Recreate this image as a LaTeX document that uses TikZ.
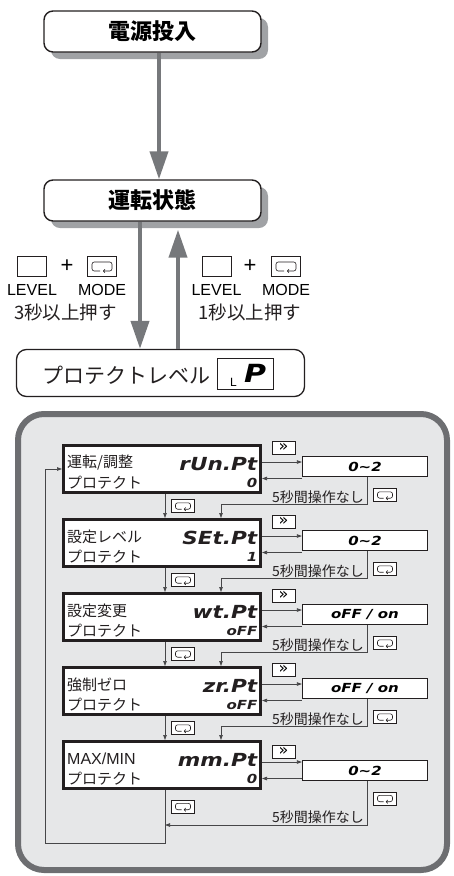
\documentclass[tikz,border=0pt]{standalone}
\usepackage{fontspec}
\setmainfont{Liberation Sans}
\newfontfamily\jp{Noto Sans CJK JP}
\newfontfamily\segf[FakeStretch=1.2]{DejaVu Sans}
\newfontfamily\dvs{DejaVu Sans}
\usetikzlibrary{arrows.meta,shadows,calc}
\definecolor{panelfill}{RGB}{230,231,232}
\definecolor{panelborder}{RGB}{109,110,113}
\definecolor{shadowgray}{RGB}{160,162,165}
\definecolor{arrowgray}{RGB}{118,120,123}
\definecolor{linegray}{RGB}{70,70,72}
\definecolor{ink}{RGB}{35,31,32}
\tikzset{
 titlebox/.style={draw=ink, line width=1.4pt, rounded corners=9pt, fill=white, minimum width=217pt, minimum height=41pt, inner sep=0pt, font=\jp\bfseries\fontsize{22}{22}\selectfont, drop shadow={shadow xshift=7pt, shadow yshift=-7pt, fill=shadowgray, opacity=1}},
 bigarrow/.style={draw=arrowgray, line width=4pt, -{Triangle[length=28pt,width=18pt]}},
 keybig/.style={draw=ink, line width=0.8pt, minimum width=29pt, minimum height=20pt, inner sep=0pt, fill=white},
 keysmall/.style={draw=ink, line width=0.7pt, minimum width=23pt, minimum height=13pt, inner sep=0pt, fill=white},
 keylabel/.style={font=\fontsize{16}{16}\selectfont, inner sep=0pt},
 jptext/.style={font=\jp\fontsize{#1}{#1}\selectfont, inner sep=0pt, text=ink},
 rowbox/.style={draw=ink, line width=3pt, fill=white, minimum width=197pt, minimum height=47pt, inner sep=0pt},
 valbox/.style={draw=ink, line width=1.2pt, fill=white, minimum width=125pt, minimum height=20pt, inner sep=0pt, font=\segf\bfseries\itshape\fontsize{12.5}{12.5}\selectfont},
 conn/.style={draw=linegray, line width=0.7pt},
 conna/.style={conn, -{Triangle[length=5pt,width=3.5pt]}},
 segbig/.style={font=\segf\bfseries\itshape\fontsize{18}{18}\selectfont, inner sep=0pt, text=ink},
 segsmall/.style={font=\segf\bfseries\itshape\fontsize{12.5}{12.5}\selectfont, inner sep=0pt, text=ink},
}
\newcommand\modeglyph[4]{%
  \begin{scope}[shift={(#1,#2)}, x=#3pt, y=#4pt]
  \draw[draw=ink, line width=0.6pt, rounded corners=2.2pt, -{Straight Barb[length=1.6pt,width=3.4pt]}] (-0.2,-1) -- (-1,-1) -- (-1,1) -- (1,1) -- (1,-1) -- (0.1,-1);
  \end{scope}}
\newcommand\protrow[8]{%
 \pgfmathsetmacro\rowYc{#2+25}%
 \pgfmathsetmacro\rowYa{#2+20}%
 \pgfmathsetmacro\rowYb{#2+39}%
 \pgfmathsetmacro\rowYla{#2+19}%
 \pgfmathsetmacro\rowYlb{#2+38.5}%
 \pgfmathsetmacro\rowYk{#2+3.5+#7}%
 \pgfmathsetmacro\rowYv{#2+22.5+#7}%
 \pgfmathsetmacro\rowAr{#2+18+#8}%
 \pgfmathsetmacro\rowBr{#2+34.5+#8}%
 \node[rowbox] (r#1) at (162,\rowYc) {};
 \node[jptext=15, anchor=west] (r#1a) at (67,\rowYla) {#3};
 \node[jptext=15, anchor=west] (r#1b) at (67,\rowYlb) {プロテクト};
 \node[segbig, anchor=east] (r#1s) at (257.5,\rowYa) {#4};
 \node[segsmall, anchor=east] (r#1v) at (257.5,\rowYb) {#5};
 \node[keysmall] (k#1) at (283.5,\rowYk) {};
 \node[font=\dvs\fontsize{16}{16}\selectfont, inner sep=0pt] (k#1t) at (k#1) {»};
 \node[valbox] (v#1) at (365,\rowYv) {#6};
 \draw[conna] (r#1.east |- 0,\rowAr) -- (v#1.west |- 0,\rowAr);
 \draw[conna] (v#1.west |- 0,\rowBr) -- (r#1.east |- 0,\rowBr);
}
\begin{document}
\begin{tikzpicture}[x=1pt,y=-1pt]
\useasboundingbox (0,0) rectangle (454,876);
% panel background
\node[draw=panelborder, line width=6pt, fill=panelfill, rounded corners=26pt, minimum width=429pt, minimum height=456pt, inner sep=0pt] (panel) at (232.5,642) {};

% title boxes
\node[titlebox] (t1) at (152.5,31.5) {電源投入};
\node[titlebox] (t2) at (152.5,200.5) {運転状態};

% protect level box
\node[draw=ink, line width=1.3pt, rounded corners=10pt, minimum width=288pt, minimum height=47pt, fill=white, inner sep=0pt] (plvl) at (160.5,373) {};
\node[jptext=21, anchor=west] (plvltxt) at (42,375) {プロテクトレベル};
\node[draw=ink, line width=0.8pt, minimum width=56pt, minimum height=31pt, inner sep=0pt] (lpbox) at (245.5,374) {};
\node[font=\fontsize{12}{12}\selectfont, inner sep=0pt] (lpL) at (233.5,382.5) {L};
\node[font=\segf\bfseries\itshape\fontsize{25}{25}\selectfont, inner sep=0pt] (lpP) at (255,373) {P};

% big gray arrows
\coordinate (xa) at (159,0);
\coordinate (xb) at (140,0);
\coordinate (xc) at (178,0);
\draw[bigarrow] (t1.south -| xa) -- (t2.north -| xa);
\draw[bigarrow] (t2.south -| xb) -- (plvl.north -| xb);
\draw[bigarrow] (plvl.north -| xc) -- ($(t2.south -| xc)+(0,8)$);

% key hints left
\node[keybig] (lvl1) at (32,266.5) {};
\node[font=\fontsize{22}{22}\selectfont, inner sep=0pt] (plus1) at (67,266) {+};
\node[keybig] (mode1) at (102,266.5) {};
\modeglyph{102}{266.5}{10}{4.5}
\node[keylabel] (lvl1t) at (32,290) {LEVEL};
\node[keylabel] (mode1t) at (102,290) {MODE};
\node[jptext=18.5] (sec3) at (65.5,312) {3秒以上押す};
% key hints right
\node[keybig] (lvl2) at (216.5,266.5) {};
\node[font=\fontsize{22}{22}\selectfont, inner sep=0pt] (plus2) at (250,266) {+};
\node[keybig] (mode2) at (286,266.5) {};
\modeglyph{286}{266.5}{10}{4.5}
\node[keylabel] (lvl2t) at (216.5,290) {LEVEL};
\node[keylabel] (mode2t) at (286,290) {MODE};
\node[jptext=18.5] (sec1) at (250,312) {1秒以上押す};

% rows
\protrow{1}{444}{運転/調整}{rUn.Pt}{0}{0\textasciitilde 2}{0}{0}
\protrow{2}{518}{設定レベル}{SEt.Pt}{1}{0\textasciitilde 2}{0}{0}
\protrow{3}{592}{設定変更}{wt.Pt}{oFF}{oFF / on}{0}{0}
\protrow{4}{666}{強制ゼロ}{zr.Pt}{oFF}{oFF / on}{0}{0}
\protrow{5}{740}{{\normalfont\fontsize{16}{16}\selectfont MAX/MIN}}{mm.Pt}{0}{0\textasciitilde 2}{8}{4}

\coordinate (dx) at (165,0);
\coordinate (fbx) at (367,0);
\coordinate (fcx) at (221,0);
\coordinate (lx) at (45,0);

% row 1 -> 2
\draw[conna] (r1.south -| dx) -- (r2.north -| dx);
\node[keysmall] (m1) at (183,506) {};
\modeglyph{183}{506}{7.5}{3.2}
\draw[conna] (v1.south -| fbx) -- (fbx |- 0,504) -| (r2.north -| fcx);
\node[keysmall] (mv1) at (385,495) {};
\modeglyph{385}{495}{7.5}{3.2}
\node[jptext=14, anchor=east] (ns1) at (364,497) {5秒間操作なし};

% row 2 -> 3
\draw[conna] (r2.south -| dx) -- (r3.north -| dx);
\node[keysmall] (m2) at (183,580) {};
\modeglyph{183}{580}{7.5}{3.2}
\draw[conna] (v2.south -| fbx) -- (fbx |- 0,578) -| (r3.north -| fcx);
\node[keysmall] (mv2) at (385,569) {};
\modeglyph{385}{569}{7.5}{3.2}
\node[jptext=14, anchor=east] (ns2) at (364,571) {5秒間操作なし};

% row 3 -> 4
\draw[conna] (r3.south -| dx) -- (r4.north -| dx);
\node[keysmall] (m3) at (183,654) {};
\modeglyph{183}{654}{7.5}{3.2}
\draw[conna] (v3.south -| fbx) -- (fbx |- 0,652) -| (r4.north -| fcx);
\node[keysmall] (mv3) at (385,643) {};
\modeglyph{385}{643}{7.5}{3.2}
\node[jptext=14, anchor=east] (ns3) at (364,645) {5秒間操作なし};

% row 4 -> 5
\draw[conna] (r4.south -| dx) -- (r5.north -| dx);
\node[keysmall] (m4) at (183,728) {};
\modeglyph{183}{728}{7.5}{3.2}
\draw[conna] (v4.south -| fbx) -- (fbx |- 0,726) -| (r5.north -| fcx);
\node[keysmall] (mv4) at (385,717) {};
\modeglyph{385}{717}{7.5}{3.2}
\node[jptext=14, anchor=east] (ns4) at (364,719) {5秒間操作なし};

% row 5 -> back to row 1
\node[keysmall] (m5) at (183,806.5) {};
\modeglyph{183}{806.5}{7.5}{3.2}
\draw[conna] (r5.south -| dx) |- (lx |- 0,843) |- (r1.west);
\draw[conna] (v5.south -| fbx) -- (fbx |- 0,825) -- (dx |- 0,825);
\node[keysmall] (mv5) at (385,798.5) {};
\modeglyph{385}{798.5}{7.5}{3.2}
\node[jptext=14, anchor=east] (ns5) at (364,817.5) {5秒間操作なし};
\end{tikzpicture}
\end{document}
